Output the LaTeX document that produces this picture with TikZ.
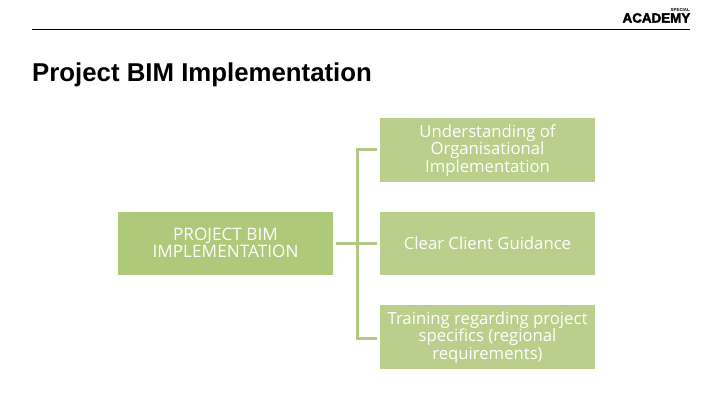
\documentclass[tikz,border=0pt]{standalone}
\usepackage{fontspec}
\setmainfont{Open Sans}
\newfontfamily\arialf{Liberation Sans}
\newfontfamily\logof[BoldFeatures={FakeBold=2.5}]{Liberation Sans}
\definecolor{boxg}{HTML}{B9CF8B}
\definecolor{boxd}{HTML}{AFC97A}
\definecolor{linkg}{HTML}{B2C986}
\tikzset{
  x=1pt,y=-1pt,
  box/.style={fill=boxg,draw=none,minimum width=215pt,minimum height=64pt,inner sep=0pt,outer sep=0pt},
  rootbox/.style={box,fill=boxd},
  link/.style={draw=linkg,line width=3pt},
  boxtext/.style={anchor=center,inner sep=0pt,align=center,text=white,font=\fontsize{16.7}{17.5}\selectfont},
}
\begin{document}
\begin{tikzpicture}
\useasboundingbox (0,0) rectangle (720,405);
\fill[white] (0,0) rectangle (720,405);
\coordinate (ruleL) at (32,29);
\coordinate (ruleR) at (690,29);
\draw[black,line width=0.8pt] (ruleL) -- (ruleR);
\node[anchor=west,inner sep=0pt,font=\arialf\bfseries\fontsize{25.8}{27}\selectfont] (title) at (32,74.5) {Project BIM Implementation};
\node[anchor=east,inner sep=0pt,font=\logof\bfseries\fontsize{13.4}{14}\selectfont] (logo) at (690.5,18) {ACADEMY};
% The wording of this tiny line is illegible in the reference: "SPECIAL" is a best guess.
\node[anchor=east,inner sep=0pt,font=\arialf\bfseries\fontsize{4.4}{4.4}\selectfont] (logotop) at (690,9.5) {SPECIAL};
\node[rootbox,minimum height=63pt] (root) at (225.5,243.5) {};
\node[box] (a) at (487.5,150) {};
\node[box,minimum height=63pt] (b) at (487.5,243.5) {};
\node[box] (c) at (487.5,337) {};
\node[boxtext,font=\fontsize{17.2}{17.5}\selectfont] (roott) at (225.5,243) {PROJECT BIM\\IMPLEMENTATION};
\node[boxtext] (at) at (487.5,150.5) {Understanding of\\Organisational\\Implementation};
\node[boxtext] (bt) at (487.5,243.5) {Clear Client Guidance};
\node[boxtext] (ct) at (487.5,337.5) {Training regarding project\\specifics (regional\\requirements)};
\coordinate (ja) at (357,149);
\coordinate (jc) at (357,338);
\coordinate (ea) at (377,149);
\coordinate (eb) at (377,243);
\coordinate (ec) at (377,338);
\coordinate (sr) at (336,243);
\draw[link] (ea) -- (ja) -- (jc) -- (ec);
\draw[link] (sr) -- (eb);
\end{tikzpicture}
\end{document}
